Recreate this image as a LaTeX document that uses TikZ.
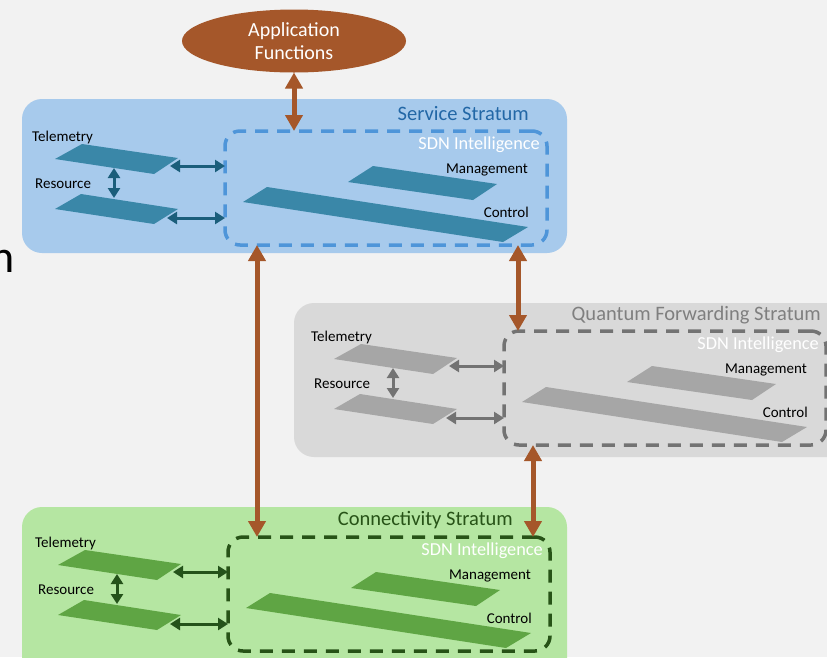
\documentclass[tikz,border=0pt]{standalone}
\usepackage{fontspec}
\setmainfont{Carlito}
\usetikzlibrary{arrows.meta,shapes.geometric}
\definecolor{bg}{HTML}{F2F2F2}
\definecolor{brn}{HTML}{A5572A}
\definecolor{svcfill}{HTML}{A7CAEC}
\definecolor{svctitle}{HTML}{2267A6}
\definecolor{svcdash}{HTML}{4E95D9}
\definecolor{svcplate}{HTML}{3A87A8}
\definecolor{svcarr}{HTML}{1B5E7B}
\definecolor{qfsfill}{HTML}{D9D9D9}
\definecolor{qfstitle}{HTML}{7F7F7F}
\definecolor{qfsdash}{HTML}{737373}
\definecolor{qfsplate}{HTML}{A6A6A6}
\definecolor{qfsarr}{HTML}{737373}
\definecolor{confill}{HTML}{B5E6A2}
\definecolor{contitle}{HTML}{275317}
\definecolor{condash}{HTML}{275317}
\definecolor{conplate}{HTML}{5FA544}
\definecolor{conarr}{HTML}{24521A}
\tikzset{
  outerbox/.style={rectangle, rounded corners=20pt, inner sep=0pt, outer sep=0pt},
  sdnbox/.style={rectangle, line width=3.5pt, dash pattern=on 13pt off 9pt, rounded corners=15pt,
    minimum width=322pt, minimum height=114pt, inner sep=0pt, outer sep=0pt},
  lbl/.style={inner sep=0pt, font=\fontsize{15}{18}\selectfont, text=black},
  sdntxt/.style={inner sep=0pt, font=\fontsize{18.3}{22}\selectfont, text=white},
  titletxt/.style={inner sep=0pt, font=\fontsize{20.5}{24}\selectfont},
  innerarr/.style={line width=3pt, arrows={Triangle[length=10pt,width=12pt]-Triangle[length=10pt,width=12pt]}},
  brnarr/.style={brn, line width=5pt, arrows={Triangle[length=16pt,width=17pt]-Triangle[length=16pt,width=17pt]}}
}
% #1 prefix, #2 shift, #3 plate colour, #4 arrow colour, #5 dash colour
\newcommand\stratumbody[5]{%
\begin{scope}[shift={#2}]
  \node[sdnbox, draw=#5] (#1SDN) at (386,188) {};
  \node[sdntxt, anchor=base east] (#1sdnlbl) at (540,149) {SDN Intelligence};
  \fill[#3] (55,159) -- (82,144) -- (178,158) -- (154,174) -- cycle;
  \fill[#3] (55,209) -- (81,194) -- (178,209) -- (154,224) -- cycle;
  \fill[#3] (348,182) -- (373,166) -- (497,184) -- (473,200) -- cycle;
  \fill[#3] (243,202) -- (267,187) -- (528,227) -- (503,242) -- cycle;
  \node[lbl, anchor=base west] (#1tel) at (32,141) {Telemetry};
  \node[lbl, anchor=base west] (#1res) at (35,188) {Resource};
  \node[lbl, anchor=base east] (#1mgt) at (528,173) {Management};
  \node[lbl, anchor=base east] (#1ctl) at (529,217) {Control};
  \coordinate (#1telB) at (114,168);
  \coordinate (#1resT) at (114,198);
  \coordinate (#1telR) at (170,166);
  \coordinate (#1resR) at (167,218);
  \draw[innerarr, color=#4] (#1telB) -- (#1resT);
  \draw[innerarr, color=#4] (#1telR) -- (#1telR -| #1SDN.west);
  \draw[innerarr, color=#4] (#1resR) -- (#1resR -| #1SDN.west);
\end{scope}}
\begin{document}
\begin{tikzpicture}[x=1pt,y=-1pt]
  \useasboundingbox (0,0) rectangle (827,657);
  \fill[bg] (0,0) rectangle (827,657);
  \node[font=\fontsize{46}{50}\selectfont, inner sep=0pt, anchor=base east] (cutn) at (15,272) {n};
  % outer strata
  \node[outerbox, fill=svcfill, minimum width=545pt, minimum height=154pt] (svc) at (294.5,176) {};
  \node[outerbox, fill=qfsfill, minimum width=556pt, minimum height=154pt] (qfs) at (572,380) {};
  \node[outerbox, fill=confill, minimum width=545pt, minimum height=173pt] (con) at (294.5,593.5) {};
  \node[titletxt, text=svctitle, anchor=base east] (svctitlelbl) at (529,120) {Service Stratum};
  \node[titletxt, text=qfstitle, anchor=base east] (qfstitlelbl) at (821,320) {Quantum Forwarding Stratum};
  \node[titletxt, text=contitle, anchor=base east] (contitlelbl) at (513,525) {Connectivity Stratum};
  \stratumbody{svc}{(0,0)}{svcplate}{svcarr}{svcdash}
  \stratumbody{qfs}{(279,200)}{qfsplate}{qfsarr}{qfsdash}
  \stratumbody{con}{(3,406)}{conplate}{conarr}{condash}
  % application functions
  \node[ellipse, fill=brn, minimum width=224pt, minimum height=63pt, inner sep=0pt, outer sep=0pt,
        align=center, text=white, font=\fontsize{20}{23}\selectfont] (app) at (294,41) {Application\\Functions};
  % brown connectors
  \draw[brnarr] (app.south) -- (app.south |- svcSDN.north);
  \draw[brnarr] ([xshift=32pt]svcSDN.south west) coordinate (b2) -- (b2 |- conSDN.north);
  \draw[brnarr] ([xshift=-29pt]svcSDN.south east) coordinate (b3) -- (b3 |- qfsSDN.north);
  \draw[brnarr] ([xshift=29pt]qfsSDN.south west) coordinate (b4) -- (b4 |- conSDN.north);
\end{tikzpicture}
\end{document}
